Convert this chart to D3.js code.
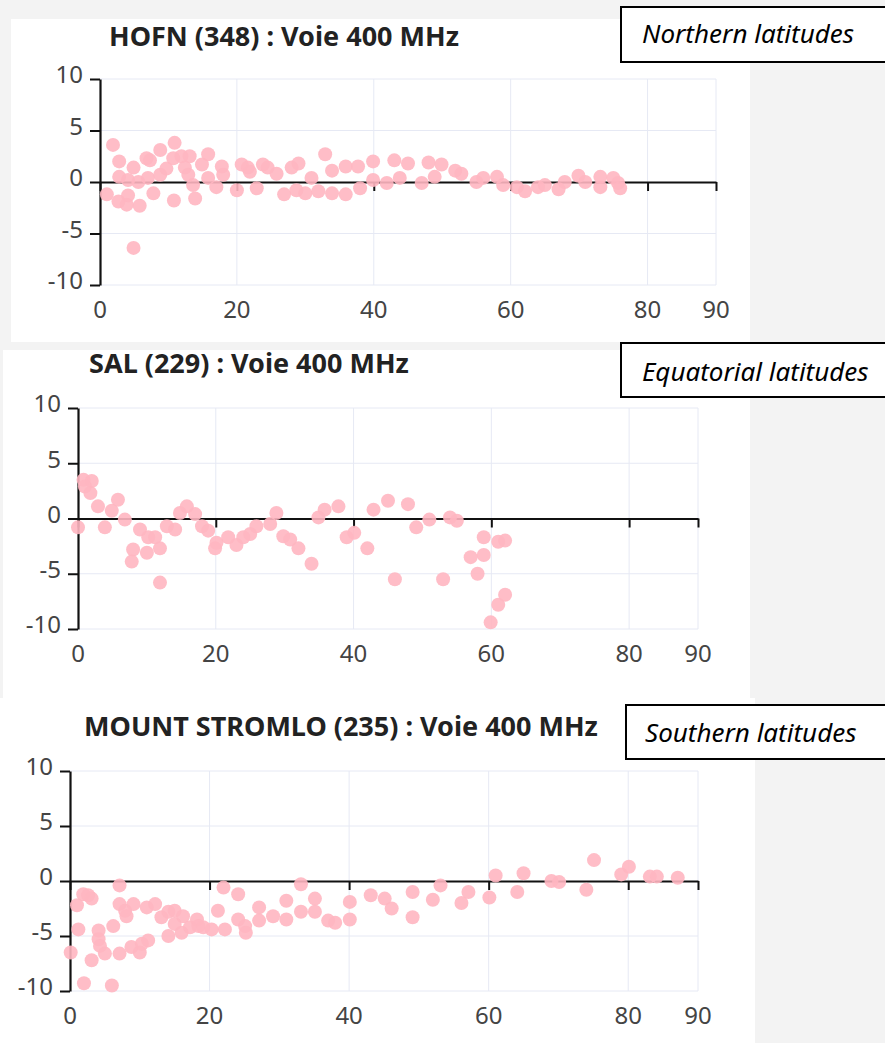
<!DOCTYPE html>
<html>
<head>
<meta charset="utf-8">
<script src="https://cdn.jsdelivr.net/npm/d3@7"></script>
<style>
  html, body { margin: 0; padding: 0; background: #f3f3f3; }
  svg { display: block; }
</style>
</head>
<body>
<svg id="chart" width="885" height="1043"></svg>
<script>
// ---------- data ----------
const titles = ["HOFN (348) : Voie 400 MHz", "SAL (229) : Voie 400 MHz", "MOUNT STROMLO (235) : Voie 400 MHz"];
const regionLabels = ["Northern latitudes", "Equatorial latitudes", "Southern latitudes"];
const xTicks = [0, 20, 40, 60, 80, 90];
const yTicks = [10, 5, 0, -5, -10];

const hofnX = [1.0,1.9,2.8,2.8,2.7,3.9,4.1,4.9,4.9,5.8,4.1,5.6,6.8,7.3,7.8,7.0,8.8,8.8,9.7,10.9,10.7,10.8,11.9,13.1,12.4,12.9,13.9,13.6,14.9,15.8,15.8,17.0,17.8,18.0,20.0,20.7,21.6,21.9,22.9,23.8,24.5,25.8,26.9,28.0,29.0,28.7,30.0,30.9,31.9,32.9,33.9,33.9,35.9,35.9,37.7,38.0,39.9,39.9,41.9,43.0,43.8,45.0,47.0,48.0,48.9,49.9,51.9,52.8,55.0,56.0,58.0,58.9,60.9,62.1,64.0,65.0,67.0,67.9,69.9,70.9,73.1,73.1,75.0,75.7,76.0];
const hofnY = [-1.2,3.6,2.0,0.5,-1.9,-2.2,-1.3,1.4,-6.4,-2.3,0.2,0.0,2.3,2.1,-1.1,0.4,3.1,0.7,1.3,3.8,2.3,-1.8,2.5,2.5,1.4,0.7,-1.6,-0.3,1.7,2.7,0.4,-0.5,1.5,0.7,-0.8,1.7,1.4,1.0,-0.6,1.7,1.4,0.8,-1.2,1.4,1.8,-0.8,-1.1,0.4,-0.9,2.7,1.1,-1.1,1.5,-1.2,1.5,-0.6,2.0,0.2,-0.1,2.1,0.4,1.8,-0.1,1.9,0.5,1.7,1.1,0.8,0.0,0.4,0.5,-0.3,-0.5,-0.9,-0.5,-0.3,-0.7,0.0,0.6,0.0,0.5,-0.5,0.4,-0.1,-0.6];

const salX = [0.0,0.8,2.0,1.0,1.8,2.9,3.9,4.9,5.8,6.8,8.0,7.8,9.0,10.0,10.2,11.2,11.9,11.9,12.9,14.1,14.8,15.8,17.0,18.0,18.9,19.9,20.1,21.8,23.0,24.0,25.0,25.9,27.9,28.8,29.8,30.8,32.0,33.9,34.9,35.8,37.8,39.0,40.1,42.0,42.9,45.0,46.0,47.9,49.1,51.0,53.0,54.0,55.0,57.0,58.0,58.9,58.9,59.9,61.0,61.0,62.0,62.0];
const salY = [-0.8,3.5,3.4,2.9,2.3,1.1,-0.8,0.7,1.7,-0.1,-2.8,-3.9,-1.0,-3.1,-1.7,-1.7,-2.7,-5.8,-0.7,-1.0,0.5,1.1,0.4,-0.7,-1.1,-2.7,-2.2,-1.7,-2.4,-1.7,-1.4,-0.7,-0.5,0.5,-1.6,-1.9,-2.7,-4.1,0.1,0.8,1.1,-1.7,-1.3,-2.7,0.8,1.6,-5.5,1.3,-0.8,-0.1,-5.5,0.1,-0.2,-3.5,-5.0,-1.7,-3.3,-9.4,-7.8,-2.1,-2.0,-6.9];

const stromloX = [0.1,1.2,1.0,2.0,1.9,2.6,3.1,3.1,4.1,4.1,4.3,5.0,6.0,6.2,7.1,7.1,7.1,7.9,8.1,9.1,8.8,10.0,10.3,11.2,11.0,12.2,13.1,14.1,14.1,15.0,15.0,16.0,16.2,17.2,18.2,18.4,19.1,20.3,21.2,22.0,22.2,24.1,24.1,25.1,25.2,27.1,27.1,29.1,31.0,31.0,33.1,33.1,35.1,35.1,37.0,38.0,40.1,40.1,43.1,45.1,46.1,49.1,49.1,52.0,53.1,56.1,57.1,60.1,61.0,64.1,65.0,69.0,70.1,74.0,75.1,79.0,80.1,83.1,84.1,87.1];
const stromloY = [-6.5,-4.4,-2.2,-9.3,-1.2,-1.3,-1.6,-7.2,-4.5,-5.3,-5.9,-6.6,-9.5,-4.1,-0.4,-2.1,-6.6,-2.7,-3.2,-2.1,-6.0,-6.5,-5.7,-5.4,-2.4,-2.1,-3.3,-5.0,-2.8,-2.7,-3.9,-4.7,-3.2,-4.2,-3.5,-4.1,-4.2,-4.4,-2.7,-0.6,-4.4,-1.2,-3.5,-4.1,-4.7,-2.4,-3.6,-3.2,-1.8,-3.5,-0.3,-2.8,-1.6,-2.8,-3.6,-3.8,-1.9,-3.5,-1.3,-1.6,-2.5,-1.0,-3.3,-1.7,-0.4,-2.0,-1.0,-1.5,0.5,-1.0,0.7,0.0,-0.1,-0.8,1.9,0.6,1.3,0.4,0.4,0.3];

// ---------- layout ----------
const panels = [
  { title: titles[0], label: regionLabels[0], xs: hofnX, ys: hofnY,
    bg: [11, 19, 739, 323], x0: 100, x1: 716, yTop: 79, yBot: 285, titleX: 284, titleY: 46,
    box: [621, 7, 300, 55], labelX: 642, labelY: 43 },
  { title: titles[1], label: regionLabels[1], xs: salX, ys: salY,
    bg: [3, 350, 747, 348], x0: 78, x1: 698, yTop: 408, yBot: 629, titleX: 249, titleY: 373,
    box: [621, 343, 300, 54], labelX: 642, labelY: 381 },
  { title: titles[2], label: regionLabels[2], xs: stromloX, ys: stromloY,
    bg: [0, 698, 755, 345], x0: 70, x1: 698, yTop: 771, yBot: 991, titleX: 341, titleY: 736,
    box: [626, 705, 300, 54], labelX: 645, labelY: 742 }
];

const svg = d3.select("#chart");
const tickFont = "'Noto Sans', 'Open Sans', sans-serif";

panels.forEach(p => {
  const g = svg.append("g");
  g.append("rect").attr("x", p.bg[0]).attr("y", p.bg[1]).attr("width", p.bg[2]).attr("height", p.bg[3]).attr("fill", "#ffffff");

  const x = d3.scaleLinear().domain([0, 90]).range([p.x0, p.x1]);
  const y = d3.scaleLinear().domain([-10, 10]).range([p.yBot, p.yTop]);

  // grid
  g.append("g").selectAll("line.v").data(xTicks.filter(d => d > 0)).join("line")
    .attr("x1", d => x(d)).attr("x2", d => x(d)).attr("y1", y(10)).attr("y2", y(-10))
    .attr("stroke", "#e6e9f4").attr("stroke-width", 1);
  g.append("g").selectAll("line.h").data(yTicks.filter(d => d !== 0)).join("line")
    .attr("x1", x(0)).attr("x2", x(90)).attr("y1", d => y(d)).attr("y2", d => y(d))
    .attr("stroke", "#e6e9f4").attr("stroke-width", 1);

  // x axis at y=0 (ticks down, no labels)
  const xAxis = d3.axisBottom(x).tickValues(xTicks).tickSize(9).tickSizeOuter(0).tickFormat("");
  const xa = g.append("g").attr("transform", `translate(0,${y(0)})`).call(xAxis);
  xa.select(".domain").attr("stroke", "#111").attr("stroke-width", 2.2);
  xa.selectAll(".tick line").attr("stroke", "#111").attr("stroke-width", 2);

  // y axis
  const yAxis = d3.axisLeft(y).tickValues(yTicks).tickSize(10).tickSizeOuter(0).tickFormat("");
  const ya = g.append("g").attr("transform", `translate(${x(0)},0)`).call(yAxis);
  ya.select(".domain").attr("stroke", "#111").attr("stroke-width", 2.2);
  ya.selectAll(".tick line").attr("stroke", "#111").attr("stroke-width", 2);

  // y tick labels
  g.append("g").selectAll("text").data(yTicks).join("text")
    .attr("x", x(0) - 17).attr("y", d => y(d) - 2)
    .attr("text-anchor", "end").attr("dominant-baseline", "middle")
    .attr("font-family", tickFont).attr("font-size", 24).attr("fill", "#444")
    .text(d => d);

  // x tick labels at bottom
  g.append("g").selectAll("text").data(xTicks).join("text")
    .attr("x", d => x(d)).attr("y", y(-10) + 27)
    .attr("text-anchor", "middle").attr("dominant-baseline", "middle")
    .attr("font-family", tickFont).attr("font-size", 24).attr("fill", "#444")
    .text(d => d);

  // points
  const pts = p.xs.map((v, i) => ({ x: v, y: p.ys[i] }));
  g.append("g").selectAll("circle").data(pts).join("circle")
    .attr("cx", d => x(d.x)).attr("cy", d => y(d.y)).attr("r", 7)
    .attr("fill", "#ffb6c1").attr("fill-opacity", 0.9);

  // title
  g.append("text").attr("x", p.titleX).attr("y", p.titleY)
    .attr("text-anchor", "middle")
    .attr("font-family", tickFont).attr("font-weight", "bold").attr("font-size", 27).attr("fill", "#222")
    .text(p.title);

  // region label box
  g.append("rect").attr("x", p.box[0]).attr("y", p.box[1]).attr("width", p.box[2]).attr("height", p.box[3])
    .attr("fill", "#ffffff").attr("stroke", "#000").attr("stroke-width", 2);
  g.append("text").attr("x", p.labelX).attr("y", p.labelY)
    .attr("font-family", tickFont).attr("font-style", "italic").attr("font-size", 26).attr("fill", "#000")
    .text(p.label);
});
</script>
</body>
</html>
